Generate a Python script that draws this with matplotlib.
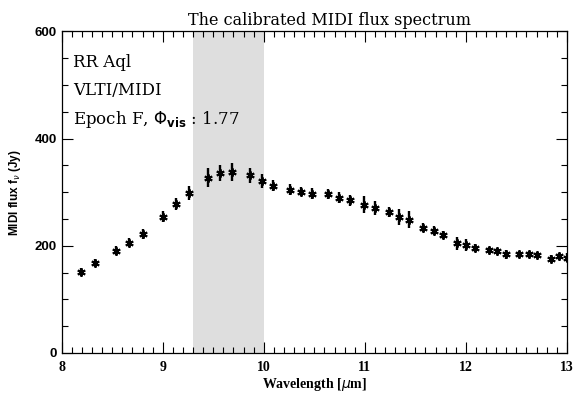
import numpy as np
import matplotlib
matplotlib.use("Agg")
import matplotlib.pyplot as plt
from matplotlib.ticker import MultipleLocator

# calibrated MIDI spectrum of RR Aql
wavelength = [8.19, 8.33, 8.54, 8.67, 8.80, 9.00, 9.13, 9.26, 9.45, 9.57,
              9.69, 9.86, 9.98, 10.09, 10.26, 10.37, 10.48, 10.64, 10.74, 10.85,
              10.99, 11.10, 11.24, 11.34, 11.44, 11.58, 11.68, 11.77, 11.91, 12.00,
              12.09, 12.23, 12.31, 12.40, 12.53, 12.62, 12.70, 12.84, 12.92, 13.00]
flux = [151, 168, 191, 206, 222, 254, 278, 298, 327, 335,
        338, 332, 321, 312, 305, 301, 297, 297, 290, 285,
        277, 271, 263, 253, 249, 234, 228, 220, 205, 201,
        196, 193, 191, 184, 184, 184, 183, 176, 180, 178]
flux_err = [8, 8, 9, 9, 10, 10, 12, 13, 18, 15,
            17, 14, 13, 10, 10, 9, 10, 9, 10, 10,
            16, 13, 10, 15, 15, 9, 8, 8, 12, 11,
            8, 5, 5, 8, 6, 6, 5, 7, 6, 8]

band = (9.3, 10.0)  # ozone region

fig = plt.figure(figsize=(5.79, 3.97), dpi=100)
ax = fig.add_axes([0.1066, 0.111, 0.8725, 0.8097])

ax.axvspan(band[0], band[1], color="#dedede", lw=0, zorder=0)

ax.errorbar(wavelength, flux, yerr=flux_err, fmt="none", ecolor="black",
            elinewidth=1.7, capsize=0, zorder=2)
ax.plot(wavelength, flux, ls="none", marker=(6, 2, 0), ms=6, mew=1.4,
        color="black", zorder=3)

ax.set_xlim(8, 13)
ax.set_ylim(0, 600)
ax.xaxis.set_major_locator(MultipleLocator(1))
ax.xaxis.set_minor_locator(MultipleLocator(0.1))
ax.yaxis.set_major_locator(MultipleLocator(200))
ax.yaxis.set_minor_locator(MultipleLocator(50))
ax.tick_params(which="both", direction="in", top=True, right=True, width=0.8)
ax.tick_params(which="major", length=8)
ax.tick_params(which="minor", length=4)
ax.tick_params(axis="x", which="major", pad=6)
for s in ax.spines.values():
    s.set_linewidth(0.9)

for lab in ax.get_xticklabels():
    lab.set_fontfamily("Liberation Serif")
    lab.set_fontweight("bold")
    lab.set_fontsize(10)
for lab in ax.get_yticklabels():
    lab.set_fontfamily("Liberation Sans")
    lab.set_fontweight("bold")
    lab.set_fontsize(9.5)

ax.set_title("The calibrated MIDI flux spectrum", fontfamily="DejaVu Serif",
             fontsize=11.5, pad=5, x=0.53)
ax.set_xlabel(r"Wavelength [$\mu$m]", fontfamily="Liberation Serif",
              fontweight="bold", fontsize=10, labelpad=1)
ax.set_ylabel(r"MIDI flux f$_\nu$ (Jy)", fontfamily="Liberation Sans",
              fontweight="bold", fontsize=8.5, labelpad=8)

txt = dict(fontfamily="DejaVu Serif", fontsize=12, transform=ax.transAxes,
           va="center", ha="left")
ax.text(0.022, 0.905, "RR Aql", **txt)
ax.text(0.022, 0.815, "VLTI/MIDI", **txt)
ax.text(0.022, 0.725, r"Epoch F, $\Phi_{\mathbf{vis}}$ : 1.77", **txt)

fig.savefig("out.png", dpi=100)
